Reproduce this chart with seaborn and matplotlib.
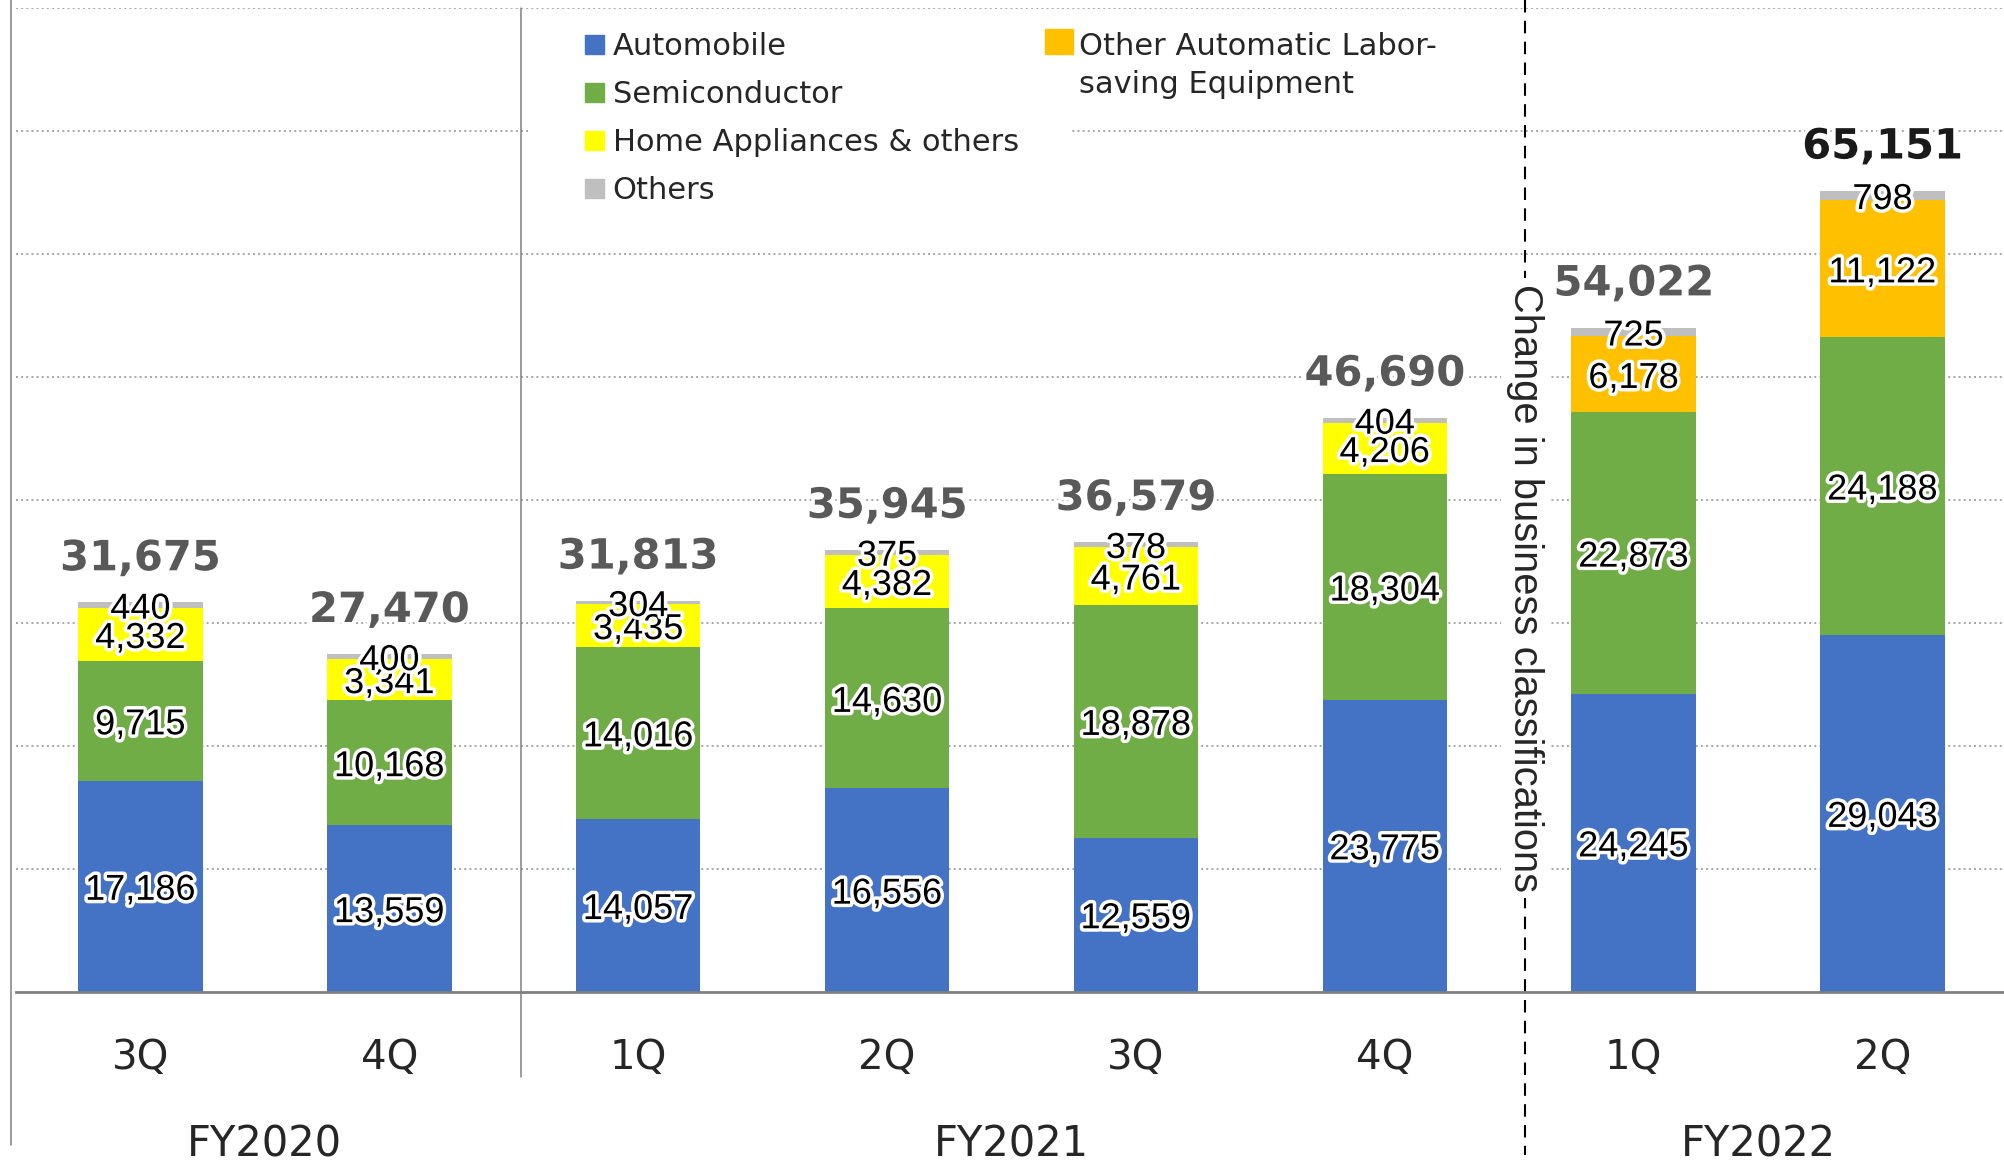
import numpy as np
import pandas as pd
import seaborn as sns
import matplotlib.pyplot as plt
import matplotlib.patheffects as pe
from matplotlib.patches import Patch, Rectangle
from matplotlib.legend_handler import HandlerPatch

# data
periods = ['FY2020 3Q', 'FY2020 4Q', 'FY2021 1Q', 'FY2021 2Q',
           'FY2021 3Q', 'FY2021 4Q', 'FY2022 1Q', 'FY2022 2Q']
quarters = ['3Q', '4Q', '1Q', '2Q', '3Q', '4Q', '1Q', '2Q']
automobile = [17186, 13559, 14057, 16556, 12559, 23775, 24245, 29043]
semiconductor = [9715, 10168, 14016, 14630, 18878, 18304, 22873, 24188]
home_appliances = [4332, 3341, 3435, 4382, 4761, 4206, 0, 0]
other_automatic = [0, 0, 0, 0, 0, 0, 6178, 11122]
others = [440, 400, 304, 375, 378, 404, 725, 798]
totals = [31675, 27470, 31813, 35945, 36579, 46690, 54022, 65151]
fiscal_years = ['FY2020', 'FY2021', 'FY2022']
fy_centers = [0.5, 3.5, 6.5]

series = [
    ('Automobile', automobile, '#4472C4'),
    ('Semiconductor', semiconductor, '#70AD47'),
    ('Home Appliances & others', home_appliances, '#FFFF00'),
    ('Other Automatic Labor-\nsaving Equipment', other_automatic, '#FFC000'),
    ('Others', others, '#BFBFBF'),
]

sns.set_style('white')
plt.rcParams['font.family'] = ['DejaVu Sans']

fig = plt.figure(figsize=(20.04, 11.65), dpi=100)
ax = fig.add_axes([16 / 2004, 173 / 1165, 1991 / 2004, 984 / 1165])

glow = [pe.withStroke(linewidth=5, foreground='white')]
bottom = np.zeros(len(periods))
for name, vals, col in series:
    df = pd.DataFrame({'period': periods, 'value': vals})
    sns.barplot(data=df, x='period', y='value', order=periods, color=col,
                saturation=1, width=0.5, bottom=bottom, errorbar=None,
                linewidth=0, ax=ax)
    for i, v in enumerate(vals):
        if v > 0:
            ax.text(i, bottom[i] + v / 2, f'{v:,}', ha='center', va='center_baseline',
                    fontsize=26, family='Liberation Sans', color='black',
                    path_effects=glow, zorder=5)
    bottom = bottom + np.array(vals)

for i, t in enumerate(totals):
    ax.annotate(f'{t:,}', (i, t), xytext=(0, 35), textcoords='offset points',
                ha='center', va='center_baseline', fontsize=30, fontweight='bold',
                color='#1a1a1a' if i == len(totals) - 1 else '#595959',
                path_effects=glow, zorder=5)

ax.set_xlim(-0.5, 7.5)
ax.set_ylim(0, 80000)
ax.set_yticks(np.arange(10000, 80001, 10000))
ax.set_yticklabels([])
ax.yaxis.grid(True, linestyle=':', color='#a6a6a6', linewidth=1.4)
ax.set_axisbelow(True)
ax.tick_params(axis='both', length=0)
ax.set_xticks(range(len(periods)))
ax.set_xticklabels([])
ax.set_xlabel('')
ax.set_ylabel('')
for s in ['top', 'right', 'left']:
    ax.spines[s].set_visible(False)
ax.spines['bottom'].set_color('#808080')
ax.spines['bottom'].set_linewidth(2)

xt = ax.get_xaxis_transform()
for i, q in enumerate(quarters):
    ax.text(i, -0.067, q, transform=xt, ha='center', va='center', fontsize=29)
for fy, c in zip(fiscal_years, fy_centers):
    ax.text(c, -0.155, fy, transform=xt, ha='center', va='center', fontsize=30)

# separators
ax.plot([-0.52, -0.52], [1.008, -0.1555], transform=xt, clip_on=False,
        color='#808080', lw=1.1)
ax.plot([1.53, 1.53], [1.0, -0.0864], transform=xt, clip_on=False,
        color='#808080', lw=1.1)
ax.plot([5.565, 5.565], [1.008, -0.166], transform=xt, clip_on=False,
        color='black', lw=1.5, linestyle=(0, (6, 4)))
ax.text(5.565, 0.4106, 'Change in business classifications', transform=xt,
        rotation=-90, ha='center', va='center', fontsize=28.7,
        family='Liberation Sans', zorder=6,
        bbox=dict(facecolor='white', edgecolor='none', pad=4))

# white boxes behind the legends (hide grid lines there)
for x0, y0, w, h in [(528, 18, 543, 194), (1071, 18, 380, 92)]:
    ax.add_patch(Rectangle((x0 / 2004, 1 - (y0 + h) / 1165), w / 2004, h / 1165,
                           transform=fig.transFigure, facecolor='white',
                           edgecolor='none', zorder=0.8, clip_on=False))

# legends
h1 = [Patch(color=series[k][2], label=series[k][0]) for k in (0, 1, 2, 4)]
leg1 = ax.legend(handles=h1, loc='upper left', bbox_to_anchor=(573 / 2004, 1 - 20 / 1165),
                 bbox_transform=fig.transFigure, fontsize=22, frameon=False,
                 borderaxespad=0, borderpad=0.4, handlelength=0.6,
                 handleheight=0.6, handletextpad=0.3, labelspacing=0.62)
ax.add_artist(leg1)


def upper_patch(legend, orig_handle, xdescent, ydescent, width, height, fontsize):
    return Rectangle((-xdescent, -ydescent + 18), width, height)


h2 = [Patch(color=series[3][2], label=series[3][0])]
leg2 = ax.legend(handles=h2, loc='upper left', bbox_to_anchor=(1033 / 2004, 1 - 20 / 1165),
                 bbox_transform=fig.transFigure, fontsize=22, frameon=False,
                 borderaxespad=0, borderpad=0.4, handlelength=0.9,
                 handleheight=0.9, handletextpad=0.2,
                 handler_map={Patch: HandlerPatch(patch_func=upper_patch)})
for t in leg2.get_texts():
    t.set_linespacing(1.4)

fig.savefig('out.png', dpi=100)
